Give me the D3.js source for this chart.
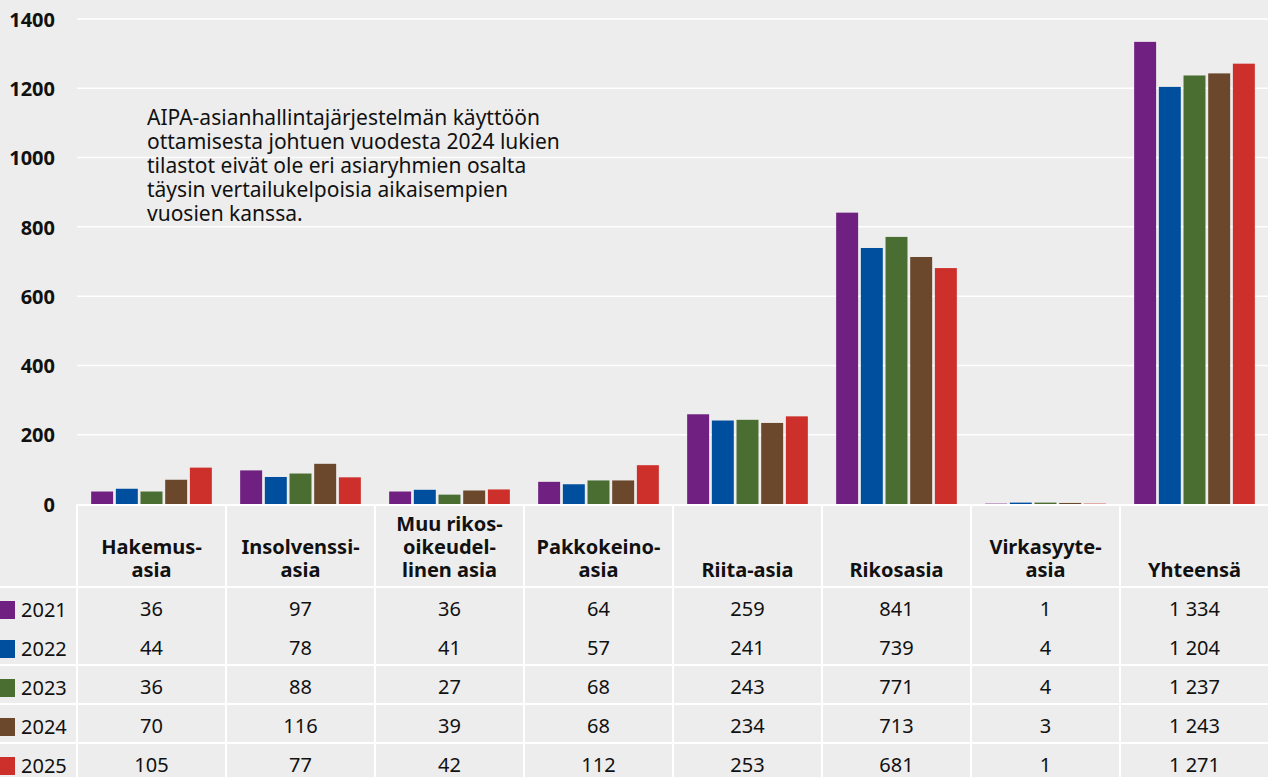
<!DOCTYPE html>
<html>
<head>
<meta charset="utf-8">
<script src="https://cdn.jsdelivr.net/npm/d3@7"></script>
<style>
  html, body { margin: 0; padding: 0; background: #ededed; }
  svg { display: block; font-family: "Noto Sans", "Open Sans", sans-serif; }
</style>
</head>
<body>
<svg class="chart" width="1268" height="777"></svg>
<script>
// categories (header labels are split into lines as in the original)
var categories = ["Hakemusasia", "Insolvenssiasia", "Muu rikosoikeudellinen asia", "Pakkokeinoasia",
                  "Riita-asia", "Rikosasia", "Virkasyyteasia", "Yhteensä"];
var categoryLines = [["Hakemus-", "asia"], ["Insolvenssi-", "asia"], ["Muu rikos-", "oikeudel-", "linen asia"],
                     ["Pakkokeino-", "asia"], ["Riita-asia"], ["Rikosasia"], ["Virkasyyte-", "asia"], ["Yhteensä"]];
var years = ["2021", "2022", "2023", "2024", "2025"];
var colors = ["#6f2080", "#004f9f", "#4a6e32", "#6b482c", "#cd2f2b"];

var v2021 = [36, 97, 36, 64, 259, 841, 1, 1334];
var v2022 = [44, 78, 41, 57, 241, 739, 4, 1204];
var v2023 = [36, 88, 27, 68, 243, 771, 4, 1237];
var v2024 = [70, 116, 39, 68, 234, 713, 3, 1243];
var v2025 = [105, 77, 42, 112, 253, 681, 1, 1271];
var series = [v2021, v2022, v2023, v2024, v2025];

var yTicks = [0, 200, 400, 600, 800, 1000, 1200, 1400];

var note = ["AIPA-asianhallintajärjestelmän käyttöön",
            "ottamisesta johtuen vuodesta 2024 lukien",
            "tilastot eivät ole eri asiaryhmien osalta",
            "täysin vertailukelpoisia aikaisempien",
            "vuosien kanssa."];

(function () {
    var svg = d3.select(".chart"),
        W = +svg.attr("width"),
        left = 77,
        zeroY = 504,
        topY = 19,
        headBottom = 587,
        rowH = 39,
        fs = 20;

    var fmt = d3.formatLocale({ decimal: ",", thousands: "\u00a0", grouping: [3], currency: ["", "€"] }).format(",d");

    var x0 = d3.scaleBand()
        .domain(categories)
        .range([left, left + 149 * 8])
        .paddingInner(0.19)
        .paddingOuter(0.095);

    var x1 = d3.scaleBand()
        .domain(years)
        .range([0, x0.bandwidth()])
        .paddingInner(0.11)
        .paddingOuter(0);

    var y = d3.scaleLinear()
        .domain([0, 1400])
        .range([zeroY, topY]);

    // gridlines
    svg.append("g").selectAll("line")
        .data(yTicks.filter(function (d) { return d > 0; }))
        .enter().append("line")
        .attr("x1", left).attr("x2", W)
        .attr("y1", function (d) { return y(d); })
        .attr("y2", function (d) { return y(d); })
        .attr("stroke", "#ffffff")
        .attr("stroke-width", 1.5);

    // y axis labels
    var yAxis = d3.axisLeft(y).tickValues(yTicks).tickFormat(d3.format("d")).tickSize(0).tickPadding(0);
    var gy = svg.append("g")
        .attr("transform", "translate(55,0)")
        .call(yAxis);
    gy.select(".domain").remove();
    gy.selectAll("text")
        .attr("font-family", "Noto Sans, sans-serif")
        .attr("font-size", fs)
        .attr("font-weight", "bold")
        .attr("dy", "0.36em")
        .attr("fill", "#111");

    // note
    svg.append("text")
        .attr("x", 147).attr("y", 125)
        .attr("font-size", 21)
        .attr("fill", "#111")
        .selectAll("tspan")
        .data(note)
        .enter().append("tspan")
        .attr("x", 147)
        .attr("dy", function (d, i) { return i ? 24 : 0; })
        .text(function (d) { return d; });

    // bars
    var groups = svg.append("g").selectAll("g")
        .data(categories)
        .enter().append("g")
        .attr("transform", function (d) { return "translate(" + x0(d) + ",0)"; });

    groups.selectAll("rect")
        .data(function (d, ci) {
            return years.map(function (yr, si) { return { year: yr, i: si, value: series[si][ci] }; });
        })
        .enter().append("rect")
        .attr("x", function (d) { return x1(d.year); })
        .attr("width", x1.bandwidth())
        .attr("y", function (d) { return y(d.value); })
        .attr("height", function (d) { return zeroY - y(d.value); })
        .attr("fill", function (d) { return colors[d.i]; });

    // table grid
    var colEdges = d3.range(categories.length).map(function (i) { return x0.step() * i + left; });
    var grid = svg.append("g").attr("stroke", "#ffffff").attr("stroke-width", 2);
    grid.append("line").attr("x1", left).attr("x2", W).attr("y1", zeroY + 1).attr("y2", zeroY + 1);
    grid.append("line").attr("x1", 0).attr("x2", W).attr("y1", headBottom).attr("y2", headBottom);
    // no rule under the first data row in the original
    grid.selectAll(".rowline")
        .data([2, 3, 4])
        .enter().append("line")
        .attr("class", "rowline")
        .attr("x1", 0).attr("x2", W)
        .attr("y1", function (d) { return headBottom + d * rowH; })
        .attr("y2", function (d) { return headBottom + d * rowH; });
    grid.selectAll(".colline")
        .data(colEdges)
        .enter().append("line")
        .attr("class", "colline")
        .attr("x1", function (d) { return d; }).attr("x2", function (d) { return d; })
        .attr("y1", zeroY).attr("y2", 777);

    // header labels, bottom aligned
    svg.append("g").selectAll("text")
        .data(categories)
        .enter().append("text")
        .attr("text-anchor", "middle")
        .attr("font-size", fs)
        .attr("font-weight", "bold")
        .attr("fill", "#111")
        .each(function (d, ci) {
            var lines = categoryLines[ci],
                cx = x0(d) + x0.bandwidth() / 2;
            d3.select(this).selectAll("tspan")
                .data(lines)
                .enter().append("tspan")
                .attr("x", cx)
                .attr("y", function (l, li) { return 577 - (lines.length - 1 - li) * 23; })
                .text(function (l) { return l; });
        });

    // table rows
    var rows = svg.append("g").selectAll("g")
        .data(years)
        .enter().append("g")
        .attr("transform", function (d, i) { return "translate(0," + (headBottom + i * rowH) + ")"; });

    rows.append("rect")
        .attr("x", -3).attr("y", 14)
        .attr("width", 18).attr("height", 18)
        .attr("fill", function (d, i) { return colors[i]; });

    rows.append("text")
        .attr("x", 21).attr("y", 30)
        .attr("font-size", fs)
        .attr("fill", "#111")
        .text(function (d) { return d; });

    rows.selectAll(".val")
        .data(function (d, si) { return series[si]; })
        .enter().append("text")
        .attr("class", "val")
        .attr("x", function (d, ci) { return x0(categories[ci]) + x0.bandwidth() / 2; })
        .attr("y", 29)
        .attr("text-anchor", "middle")
        .attr("font-size", fs)
        .attr("fill", "#111")
        .text(function (d) { return fmt(d); });
})();
</script>
</body>
</html>
